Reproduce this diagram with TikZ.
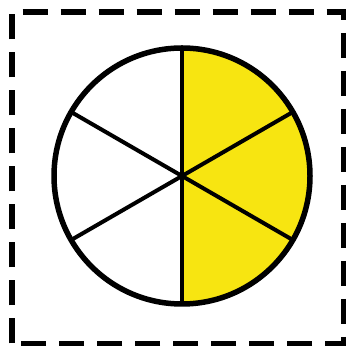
\documentclass[tikz,border=0pt]{standalone}
\usepackage{tikz}
\usetikzlibrary{positioning}
\definecolor{SliceYellow}{RGB}{247,229,17}

\begin{document}
\begin{tikzpicture}[x=1pt, y=1pt]
    \useasboundingbox (0,0) rectangle (348,347);
    \coordinate (centre) at (182,171);

    % Dashed frame
    \draw[line width=5.5pt, dash pattern=on 25pt off 13pt] (12,3.5) rectangle (343.5,335);

    % Shaded half
    \fill[SliceYellow] (centre) -- ++(90:128) arc[start angle=90, end angle=-90, radius=128] -- cycle;

    % Spokes and rim
    \foreach \a in {90, 30, 150} {
      \draw[line width=4pt] (centre) ++(\a:128) -- ++(\a+180:256);
    }
    \draw[line width=5.5pt] (centre) circle[radius=128];
  \end{tikzpicture}
\end{document}
